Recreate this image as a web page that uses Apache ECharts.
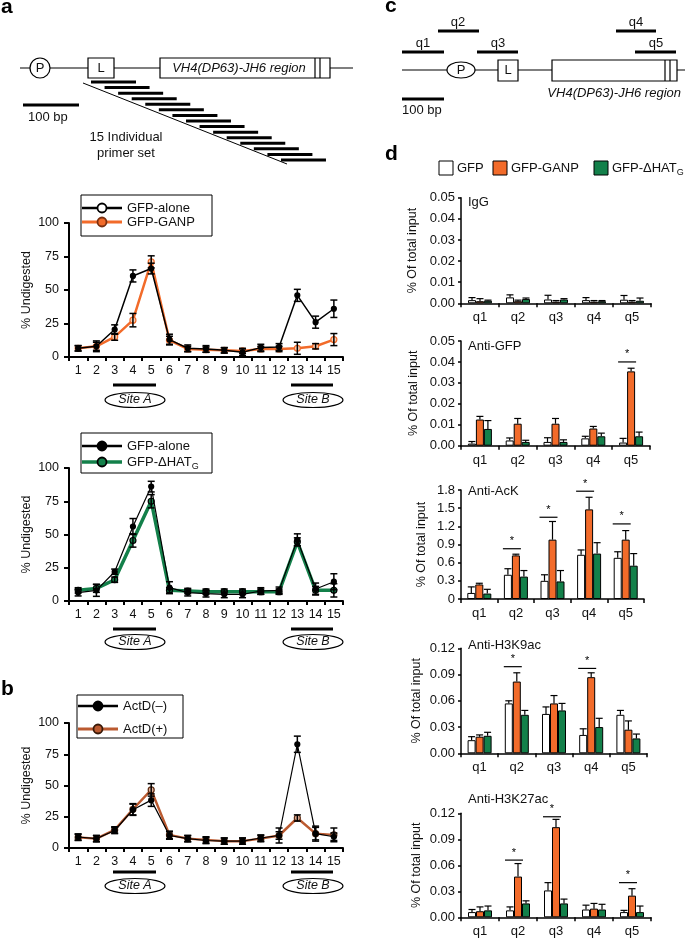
<!DOCTYPE html>
<html><head><meta charset="utf-8">
<script src="https://cdn.jsdelivr.net/npm/echarts@6/dist/echarts.min.js"></script>
<style>html,body{margin:0;padding:0;background:#fff}#c{width:685px;height:941px}</style>
</head><body><div id="c"></div>
<script>
const FONT = '"Liberation Sans", Arial, Helvetica, sans-serif';
const ORANGE = '#f26b2a', GREEN = '#13804a', BROWN = '#bb5a30';

// ---------- data ----------
const lineCats = ['1','2','3','4','5','6','7','8','9','10','11','12','13','14','15'];
const lineTicks = [0, 25, 50, 75, 100];
// panel a (top): GFP-alone vs GFP-GANP
const a1Alone    = [6.5, 8, 20.5, 60.5, 66, 13, 6.5, 6, 5, 3.5, 7, 7.5, 46, 26, 36];
const a1AloneErr = [2, 4, 3.5, 4.5, 4, 4, 2.5, 2.5, 2, 2.5, 2.5, 2.5, 4.5, 4.5, 6.5];
const a1Ganp     = [6.5, 8, 15, 27.5, 71, 12.5, 6, 5.5, 5, 4.5, 6, 6, 6.5, 8, 13];
const a1GanpErr  = [2, 3, 2.5, 5, 4.5, 3, 2, 2, 2, 2, 2, 2, 4.5, 2, 4.5];
// panel a (bottom): GFP-alone vs GFP-dHATG
const a2Alone    = [6.3, 8, 22, 56, 86, 10, 6.3, 5.5, 5, 5, 7.5, 8, 46, 9, 14.5];
const a2AloneErr = [2.5, 4.5, 2, 6, 4, 4.5, 2.5, 2.5, 2.5, 2.5, 2.5, 2.5, 4.5, 4.5, 6];
const a2Hat      = [8, 9.5, 16, 45.5, 75, 8, 7.5, 7, 7, 7, 7, 7, 44.5, 8, 8];
const a2HatErr   = [2, 3, 2, 5, 5, 2, 2, 2, 2, 2, 2, 2, 3, 3, 5];
// panel b: ActD(-) vs ActD(+)
const bMinus     = [8.8, 7.5, 14, 30.6, 38.3, 10, 7.5, 6, 5.5, 5.5, 8, 10, 83, 11.5, 9];
const bMinusErr  = [2.5, 2.5, 2.5, 4.5, 5, 3, 2.5, 2.5, 2.5, 2.5, 2.5, 3, 6.5, 5, 3];
const bPlus      = [8.5, 7.5, 14.5, 31, 46.5, 10.5, 7.5, 6.5, 5.5, 5.5, 7.5, 10, 24, 11.5, 10.5];
const bPlusErr   = [2.5, 2.5, 2.5, 4.5, 5, 3, 2.5, 2.5, 2.5, 2.5, 2.5, 6, 2.5, 6, 5.5];

// panel d
const qCats = ['q1','q2','q3','q4','q5'];
const iggGFP  = [0.0015, 0.0028, 0.0018, 0.0015, 0.0017];
const iggGFPErr = [0.0012, 0.0012, 0.002, 0.0012, 0.002];
const iggGANP = [0.001, 0.001, 0.0008, 0.0008, 0.0008];
const iggGANPErr = [0.0012, 0.0005, 0.0005, 0.0005, 0.0005];
const iggHAT  = [0.0012, 0.002, 0.0018, 0.001, 0.0012];
const iggHATErr = [0.0003, 0.0005, 0.0004, 0.0003, 0.0013];

const gfpGFP  = [0.001, 0.0025, 0.0018, 0.0035, 0.0015];
const gfpGFPErr = [0.001, 0.0012, 0.002, 0.001, 0.002];
const gfpGANP = [0.0125, 0.0105, 0.0105, 0.0082, 0.0355];
const gfpGANPErr = [0.0015, 0.0025, 0.0025, 0.001, 0.0015];
const gfpHAT  = [0.008, 0.0018, 0.0018, 0.0045, 0.0045];
const gfpHATErr = [0.004, 0.0008, 0.001, 0.0015, 0.002];
const gfpSig = [[4, 0.040]];

const ackGFP  = [0.10, 0.40, 0.30, 0.73, 0.68];
const ackGFPErr = [0.10, 0.10, 0.10, 0.08, 0.10];
const ackGANP = [0.24, 0.72, 0.98, 1.48, 0.98];
const ackGANPErr = [0.02, 0.02, 0.30, 0.20, 0.15];
const ackHAT  = [0.09, 0.37, 0.29, 0.75, 0.55];
const ackHATErr = [0.07, 0.10, 0.18, 0.18, 0.20];
const ackSig = [[1, 0.83], [2, 1.35], [3, 1.78], [4, 1.24]];

const k9GFP  = [0.015, 0.057, 0.045, 0.021, 0.044];
const k9GFPErr = [0.004, 0.003, 0.008, 0.007, 0.005];
const k9GANP = [0.019, 0.082, 0.057, 0.087, 0.027];
const k9GANPErr = [0.002, 0.010, 0.009, 0.005, 0.010];
const k9HAT  = [0.020, 0.044, 0.049, 0.030, 0.017];
const k9HATErr = [0.004, 0.005, 0.008, 0.010, 0.005];
const k9Sig = [[1, 0.099], [3, 0.097]];

const k27GFP  = [0.006, 0.008, 0.031, 0.009, 0.006];
const k27GFPErr = [0.003, 0.004, 0.009, 0.005, 0.002];
const k27GANP = [0.007, 0.047, 0.104, 0.010, 0.025];
const k27GANPErr = [0.005, 0.015, 0.009, 0.006, 0.008];
const k27HAT  = [0.008, 0.016, 0.016, 0.009, 0.006];
const k27HATErr = [0.005, 0.003, 0.005, 0.006, 0.007];
const k27Sig = [[1, 0.066], [2, 0.116], [4, 0.040]];

// ---------- layout ----------
const lineGrids = [
  {left: 69, top: 223, width: 274, height: 134},
  {left: 69, top: 468, width: 274, height: 133},
  {left: 69, top: 723, width: 274, height: 125}
];
const barGrids = [
  {left: 461, top: 197.7, width: 190, height: 105.6, max: 0.05, step: 0.01, dec: 2, title: 'IgG', nameX: 413},
  {left: 461, top: 341, width: 189, height: 104.7, max: 0.05, step: 0.01, dec: 2, title: 'Anti-GFP', nameX: 414},
  {left: 461, top: 490, width: 183, height: 109, max: 1.8, step: 0.3, dec: 1, title: 'Anti-AcK', nameX: 422},
  {left: 461, top: 648.3, width: 186, height: 105, max: 0.12, step: 0.03, dec: 2, title: 'Anti-H3K9ac', nameX: 417},
  {left: 461, top: 813.3, width: 190, height: 104, max: 0.12, step: 0.03, dec: 2, title: 'Anti-H3K27ac', nameX: 417}
];
const titleY = [202.5, 346, 491, 645, 799];
const barSets = [
  [iggGFP, iggGFPErr, iggGANP, iggGANPErr, iggHAT, iggHATErr, []],
  [gfpGFP, gfpGFPErr, gfpGANP, gfpGANPErr, gfpHAT, gfpHATErr, gfpSig],
  [ackGFP, ackGFPErr, ackGANP, ackGANPErr, ackHAT, ackHATErr, ackSig],
  [k9GFP, k9GFPErr, k9GANP, k9GANPErr, k9HAT, k9HATErr, k9Sig],
  [k27GFP, k27GFPErr, k27GANP, k27GANPErr, k27HAT, k27HATErr, k27Sig]
];
const BW = 8;

const grid = [], xAxis = [], yAxis = [], series = [];

lineGrids.forEach((g, i) => {
  grid.push(Object.assign({containLabel: false}, g));
  xAxis.push({type: 'category', gridIndex: i, data: lineCats, boundaryGap: true,
    axisLine: {lineStyle: {color: '#000', width: 2}},
    axisTick: {show: true, length: 4, lineStyle: {color: '#000', width: 2}, interval: 0},
    axisLabel: {color: '#111', fontFamily: FONT, fontSize: 12.5, margin: 7, interval: 0},
    splitLine: {show: false}});
  yAxis.push({type: 'value', gridIndex: i, min: 0, max: 100, interval: 25,
    axisLine: {show: true, lineStyle: {color: '#000', width: 2}},
    axisTick: {show: true, length: 5, lineStyle: {color: '#000', width: 2}},
    axisLabel: {color: '#111', fontFamily: FONT, fontSize: 12.5, margin: 10},
    splitLine: {show: false}});
});

barGrids.forEach((g, j) => {
  const idx = j + 3;
  grid.push({left: g.left, top: g.top, width: g.width, height: g.height, containLabel: false});
  xAxis.push({type: 'category', gridIndex: idx, data: qCats,
    axisLine: {lineStyle: {color: '#000', width: 1.5}},
    axisTick: {show: true, length: 4, lineStyle: {color: '#000', width: 1.5}, interval: 0},
    axisLabel: {color: '#111', fontFamily: FONT, fontSize: 13, margin: 8},
    splitLine: {show: false}});
  yAxis.push({type: 'value', gridIndex: idx, min: 0, max: g.max, interval: g.step,
    axisLine: {show: true, lineStyle: {color: '#000', width: 1.5}},
    axisTick: {show: true, length: 3, lineStyle: {color: '#000', width: 1.5}},
    axisLabel: {color: '#111', fontFamily: FONT, fontSize: 13, margin: 6,
      formatter: v => (g.dec === 1 && v === 0) ? '0' : v.toFixed(g.dec)},
    splitLine: {show: false}});
});

function lineSeries(gi, data, color, width, sym, symBorder, size, z) {
  return {type: 'line', xAxisIndex: gi, yAxisIndex: gi, data: data, z: z,
    lineStyle: {color: color, width: width}, symbol: 'circle', symbolSize: size,
    itemStyle: {color: sym, borderColor: symBorder, borderWidth: 1.2}, animation: false};
}
function errSeries(gi, pairs) {
  const data = [];
  pairs.forEach(([v, e]) => v.forEach((y, i) => data.push([i, y - e[i], y + e[i]])));
  return {type: 'custom', xAxisIndex: gi, yAxisIndex: gi, z: 10, data: data,
    encode: {x: 0, y: [1, 2]}, animation: false,
    renderItem: (p, api) => {
      const lo = api.coord([api.value(0), api.value(1)]);
      const hi = api.coord([api.value(0), api.value(2)]);
      const st = {stroke: '#000', lineWidth: 1.5};
      return {type: 'group', children: [
        {type: 'line', shape: {x1: lo[0], y1: lo[1], x2: hi[0], y2: hi[1]}, style: st},
        {type: 'line', shape: {x1: lo[0] - 3.5, y1: lo[1], x2: lo[0] + 3.5, y2: lo[1]}, style: st},
        {type: 'line', shape: {x1: hi[0] - 3.5, y1: hi[1], x2: hi[0] + 3.5, y2: hi[1]}, style: st}
      ]};
    }};
}

series.push(lineSeries(0, a1Ganp, ORANGE, 2.5, '#f8cfb5', ORANGE, 6, 3));
series.push(lineSeries(0, a1Alone, '#000', 1.5, '#000', '#000', 5, 4));
series.push(errSeries(0, [[a1Alone, a1AloneErr], [a1Ganp, a1GanpErr]]));
series.push(lineSeries(1, a2Hat, GREEN, 3.5, GREEN, '#000', 6, 3));
series.push(lineSeries(1, a2Alone, '#000', 1.2, '#000', '#000', 5, 4));
series.push(errSeries(1, [[a2Alone, a2AloneErr], [a2Hat, a2HatErr]]));
series.push(lineSeries(2, bPlus, BROWN, 2.5, '#e6b29a', '#5a2a10', 6, 3));
series.push(lineSeries(2, bMinus, '#000', 1.2, '#000', '#000', 5, 4));
series.push(errSeries(2, [[bMinus, bMinusErr], [bPlus, bPlusErr]]));

barSets.forEach((set, j) => {
  const gi = j + 3;
  const colors = ['#ffffff', ORANGE, GREEN];
  [0, 1, 2].forEach(k => {
    series.push({type: 'bar', xAxisIndex: gi, yAxisIndex: gi, data: set[k * 2], barWidth: BW, barGap: '0%',
      itemStyle: {color: colors[k], borderColor: '#000', borderWidth: 1}, animation: false, z: 2});
  });
  const ed = [];
  [0, 1, 2].forEach(k => set[k * 2].forEach((v, i) => ed.push([i, k, v, v + set[k * 2 + 1][i]])));
  series.push({type: 'custom', xAxisIndex: gi, yAxisIndex: gi, data: ed, z: 1, animation: false,
    encode: {x: 0, y: 3},
    renderItem: (p, api) => {
      const k = api.value(1);
      const a = api.coord([api.value(0), api.value(2)]);
      const b = api.coord([api.value(0), api.value(3)]);
      const x = a[0] + (k - 1) * BW;
      const st = {stroke: '#000', lineWidth: 1.2};
      return {type: 'group', children: [
        {type: 'line', shape: {x1: x, y1: a[1], x2: x, y2: b[1]}, style: st},
        {type: 'line', shape: {x1: x - 3.5, y1: b[1], x2: x + 3.5, y2: b[1]}, style: st}
      ]};
    }});
  if (set[6].length) {
    series.push({type: 'custom', xAxisIndex: gi, yAxisIndex: gi, data: set[6], z: 5, animation: false,
      encode: {x: 0, y: 1},
      renderItem: (p, api) => {
        const c = api.coord([api.value(0), api.value(1)]);
        const x1 = c[0] - 1.5 * BW - 1, x2 = c[0] + 0.5 * BW + 1;
        return {type: 'group', children: [
          {type: 'line', shape: {x1: x1, y1: c[1], x2: x2, y2: c[1]}, style: {stroke: '#000', lineWidth: 1.2}},
          {type: 'text', x: (x1 + x2) / 2, y: c[1] - 2, style: {text: '*', fontSize: 11, fontFamily: FONT,
            fill: '#000', align: 'center', verticalAlign: 'bottom'}}
        ]};
      }});
  }
});

// ---------- graphics (diagrams, legends, labels) ----------
const G = [];
const T = (x, y, text, o) => G.push({type: 'text', x: x, y: y, z: 20, style: Object.assign({text: text, fontFamily: FONT, fontSize: 13, fill: '#111', align: 'left', verticalAlign: 'middle'}, o || {})});
const L = (x1, y1, x2, y2, w, c) => G.push({type: 'line', z: 20, shape: {x1, y1, x2, y2}, style: {stroke: c || '#000', lineWidth: w || 1.2}});
const R = (x, y, w, h, fill, lw) => G.push({type: 'rect', z: 20, shape: {x, y, width: w, height: h}, style: {fill: fill || '#fff', stroke: '#000', lineWidth: lw || 1.2}});
const E = (cx, cy, rx, ry) => G.push({type: 'ellipse', z: 20, shape: {cx, cy, rx, ry}, style: {fill: '#fff', stroke: '#000', lineWidth: 1.2}});

// panel labels
T(1, 7, 'a', {fontSize: 21, fontWeight: 'bold', fill: '#000'});
T(1, 689, 'b', {fontSize: 21, fontWeight: 'bold', fill: '#000'});
T(385, 6, 'c', {fontSize: 21, fontWeight: 'bold', fill: '#000'});
T(385, 154, 'd', {fontSize: 21, fontWeight: 'bold', fill: '#000'});

// panel a diagram
L(20, 68, 353, 68);
G.push({type: 'circle', z: 20, shape: {cx: 40, cy: 68, r: 10}, style: {fill: '#fff', stroke: '#000', lineWidth: 1.2}});
T(40, 68.5, 'P', {align: 'center'});
R(88, 58, 26, 20);
T(101, 68.5, 'L', {align: 'center'});
R(160, 58, 170, 20);
L(315, 58, 315, 78); L(320, 58, 320, 78);
T(239, 68.5, 'VH4(DP63)-JH6 region', {align: 'center', fontStyle: 'italic'});
for (let i = 0; i < 15; i++) L(91 + 13.57 * i, 82 + 5.57 * i, 136 + 13.57 * i, 82 + 5.57 * i, 3);
L(83, 83, 287, 164, 1);
L(23, 105, 79, 105, 3);
T(28, 117, '100 bp');
T(126, 137, '15 Individual', {align: 'center'});
T(126, 153, 'primer set', {align: 'center'});

// panel c diagram
L(402, 70, 685, 70);
E(461, 70, 14, 8);
T(461, 70.5, 'P', {align: 'center'});
R(498, 60, 20, 21);
T(508, 70.5, 'L', {align: 'center'});
R(552, 60, 125, 21);
L(665, 60, 665, 81); L(670, 60, 670, 81);
T(681, 93, 'VH4(DP63)-JH6 region', {align: 'right', fontStyle: 'italic'});
[[402, 444, 52, 'q1', 423, 43], [438, 479, 31, 'q2', 458, 22], [477, 518, 52, 'q3', 498, 43],
 [616, 656, 31, 'q4', 636, 22], [635, 676, 52, 'q5', 656, 43]].forEach(q => {
  L(q[0], q[2], q[1], q[2], 3);
  T(q[4], q[5], q[3], {align: 'center'});
});
L(402, 99, 444, 99, 3);
T(402, 110, '100 bp');

// site annotations for line charts
[[385, 400], [629, 642], [872, 886]].forEach(([by, ey]) => {
  L(113, by, 156, by, 3);
  L(291, by, 333, by, 3);
  E(135, ey, 30, 7.5);
  E(313, ey, 30, 7.5);
  T(135, ey, 'Site A', {align: 'center', fontStyle: 'italic', fontSize: 12.5});
  T(313, ey, 'Site B', {align: 'center', fontStyle: 'italic', fontSize: 12.5});
});

// axis names
[290, 534.5, 785.5].forEach(cy => G.push({type: 'text', x: 27, y: cy, rotation: Math.PI / 2, z: 20,
  style: {text: '% Undigested', fontFamily: FONT, fontSize: 12.5, fill: '#111', align: 'center', verticalAlign: 'middle'}}));
barGrids.forEach((g, j) => {
  G.push({type: 'text', x: g.nameX, y: g.top + g.height / 2, rotation: Math.PI / 2, z: 20,
    style: {text: '% Of total input', fontFamily: FONT, fontSize: 12.5, fill: '#111', align: 'center', verticalAlign: 'middle'}});
  T(468, titleY[j], g.title);
});

// line legends
function legendRow(x, y, lineColor, lw, fill, stroke, label, rich) {
  L(x, y, x + 40, y, lw, lineColor);
  G.push({type: 'circle', z: 21, shape: {cx: x + 20, cy: y, r: 4.5}, style: {fill: fill, stroke: stroke, lineWidth: 1.8}});
  if (rich) {
    G.push({type: 'text', x: x + 45, y: y, z: 21, style: {text: label, fontFamily: FONT, fill: '#111', align: 'left', verticalAlign: 'middle',
      rich: {a: {fontSize: 13, fontFamily: FONT, fill: '#111', lineHeight: 18}, s: {fontSize: 9, fontFamily: FONT, fill: '#111', lineHeight: 9, verticalAlign: 'bottom'}}}});
  } else T(x + 45, y, label);
}
R(81, 195, 131, 41, 'none', 1);
legendRow(82, 208, '#000', 2.5, '#fff', '#000', 'GFP-alone');
legendRow(82, 222, ORANGE, 3, ORANGE, '#7a3010', 'GFP-GANP');
R(81, 433, 131, 40, 'none', 1);
legendRow(82, 446, '#000', 2.5, '#000', '#000', 'GFP-alone');
legendRow(82, 462, GREEN, 3.5, GREEN, '#000', '{a|GFP-ΔHAT}{s|G}', true);
R(77, 695, 106, 43, 'none', 1);
legendRow(78, 706, '#000', 2.5, '#000', '#000', 'ActD(–)');
legendRow(78, 729, BROWN, 3, BROWN, '#3a1a08', 'ActD(+)');

// bar legend
R(439, 161, 14, 14, '#fff', 1);
T(457, 168, 'GFP');
R(493, 161, 14, 14, ORANGE, 1);
T(511, 168, 'GFP-GANP');
R(594, 161, 14, 14, GREEN, 1);
G.push({type: 'text', x: 612, y: 168, z: 21, style: {text: '{a|GFP-ΔHAT}{s|G}', fontFamily: FONT, fill: '#111', align: 'left', verticalAlign: 'middle',
  rich: {a: {fontSize: 13, fontFamily: FONT, fill: '#111', lineHeight: 18}, s: {fontSize: 9, fontFamily: FONT, fill: '#111', lineHeight: 9, verticalAlign: 'bottom'}}}});

const chart = echarts.init(document.getElementById('c'), null, {renderer: 'canvas'});
chart.setOption({backgroundColor: '#fff', animation: false, grid, xAxis, yAxis, series, graphic: G});
</script></body></html>
